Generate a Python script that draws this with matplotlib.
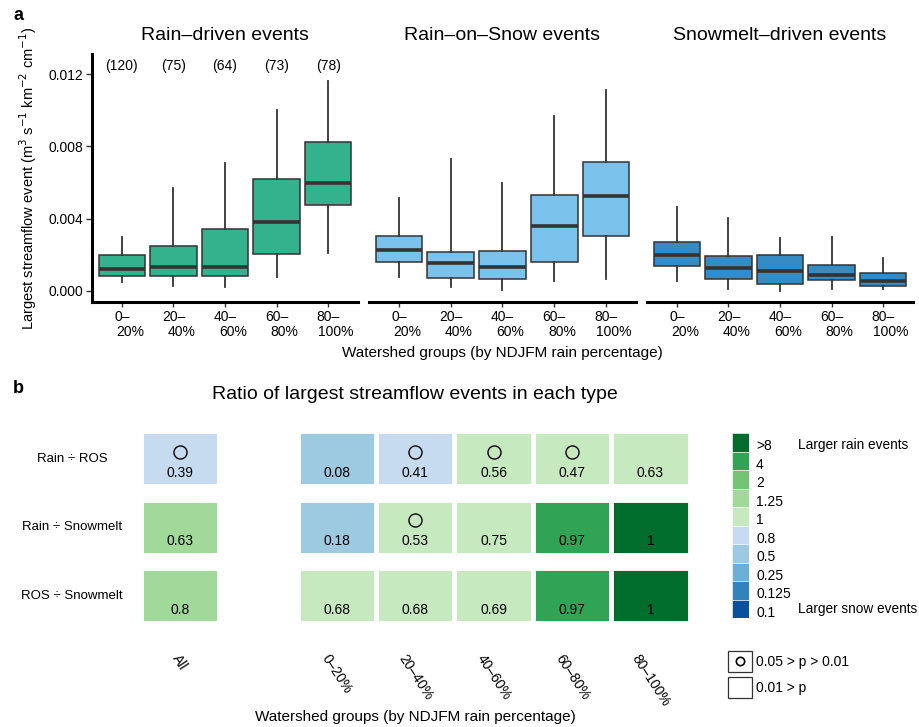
import numpy as np
import matplotlib
matplotlib.use("Agg")
import matplotlib.pyplot as plt
import matplotlib.transforms as mtransforms
from matplotlib.patches import Rectangle
from matplotlib.lines import Line2D

plt.rcParams['font.family'] = ['Liberation Sans', 'DejaVu Sans']

# ---------------- data: panel a (box stats) ----------------
group_top = ['0–', '20–', '40–', '60–', '80–']
group_bot = ['20%', '40%', '60%', '80%', '100%']
counts = [120, 75, 64, 73, 78]

rain_whislo = [0.00051, 0.00029, 0.00024, 0.00079, 0.00212]
rain_q1 = [0.00085, 0.00081, 0.00081, 0.00205, 0.00476]
rain_med = [0.00123, 0.00134, 0.00134, 0.00383, 0.00599]
rain_q3 = [0.00199, 0.00247, 0.00345, 0.00619, 0.00826]
rain_whishi = [0.00299, 0.00568, 0.00708, 0.01001, 0.01161]

ros_whislo = [0.00079, 0.00020, 0.00006, 0.00057, 0.00068]
ros_q1 = [0.00162, 0.00070, 0.00068, 0.00160, 0.00302]
ros_med = [0.00229, 0.00157, 0.00134, 0.00359, 0.00527]
ros_q3 = [0.00306, 0.00217, 0.00223, 0.00529, 0.00712]
ros_whishi = [0.00512, 0.00730, 0.00597, 0.00968, 0.01111]

snow_whislo = [0.00057, 0.00013, 0.00002, 0.00013, 0.00009]
snow_q1 = [0.00140, 0.00068, 0.00040, 0.00061, 0.00029]
snow_med = [0.00201, 0.00129, 0.00112, 0.00087, 0.00057]
snow_q3 = [0.00273, 0.00194, 0.00201, 0.00146, 0.00098]
snow_whishi = [0.00465, 0.00402, 0.00293, 0.00299, 0.00182]

# ---------------- data: panel b ----------------
row_labels = ['Rain ÷ ROS', 'Rain ÷ Snowmelt', 'ROS ÷ Snowmelt']
col_labels = ['All', '0–20%', '20–40%', '40–60%', '60–80%', '80–100%']
col_pos = [0, 2, 3, 4, 5, 6]   # one empty column after "All"

legend_levels = ['>8', '4', '2', '1.25', '1', '0.8', '0.5', '0.25', '0.125', '0.1']
legend_colors = ['#006D2C', '#31A354', '#74C476', '#A1D99B', '#C7E9C0',
                 '#C6DBEF', '#9ECAE1', '#6BAED6', '#3182BD', '#08519C']

ratio_rain_ros = [0.39, 0.08, 0.41, 0.56, 0.47, 0.63]
ratio_rain_snow = [0.63, 0.18, 0.53, 0.75, 0.97, 1]
ratio_ros_snow = [0.8, 0.68, 0.68, 0.69, 0.97, 1]

class_rain_ros = ['0.8', '0.5', '0.8', '1', '1', '1']
class_rain_snow = ['1.25', '0.5', '1', '1', '4', '>8']
class_ros_snow = ['1.25', '1', '1', '1', '4', '>8']

sig_rain_ros = [True, False, True, True, True, False]
sig_rain_snow = [False, False, True, False, False, False]
sig_ros_snow = [False, False, False, False, False, False]

W, H = 920, 727
fig = plt.figure(figsize=(W / 100, H / 100), dpi=100)


def px_axes(l, r, t, b):
    return fig.add_axes([l / W, 1 - b / H, (r - l) / W, (b - t) / H])


dark = '#333333'
panels = [
    ('Rain–driven events', '#34B18D', rain_whislo, rain_q1, rain_med, rain_q3, rain_whishi, (92, 358)),
    ('Rain–on–Snow events', '#7AC2EC', ros_whislo, ros_q1, ros_med, ros_q3, ros_whishi, (369, 636)),
    ('Snowmelt–driven events', '#358CC4', snow_whislo, snow_q1, snow_med, snow_q3, snow_whishi, (647, 913)),
]

for k, (title, color, wlo, q1, med, q3, whi, (l, r)) in enumerate(panels):
    ax = px_axes(l, r, 54, 301.7)
    stats = [dict(whislo=wlo[i], q1=q1[i], med=med[i], q3=q3[i], whishi=whi[i], fliers=[])
             for i in range(5)]
    ax.bxp(stats, positions=range(5), widths=0.9, patch_artist=True,
           showfliers=False, showcaps=False,
           boxprops=dict(facecolor=color, edgecolor=dark, linewidth=1.1),
           medianprops=dict(color=dark, linewidth=2.6, solid_capstyle='butt'),
           whiskerprops=dict(color=dark, linewidth=1.3))
    ax.set_xlim(-0.58, 4.58)
    ax.set_ylim(-0.000592, 0.01311)
    for s in ['top', 'right']:
        ax.spines[s].set_visible(False)
    ax.spines['bottom'].set_linewidth(2.2)
    ax.set_xticks(range(5))
    ax.set_xticklabels([''] * 5)
    ax.tick_params(axis='x', length=3.5, width=1.0, color=dark)
    trans = mtransforms.blended_transform_factory(ax.transData, ax.transAxes)
    for i in range(5):
        ax.annotate(group_top[i], xy=(i, 0), xycoords=trans, xytext=(0, -10.8),
                    textcoords='offset points', ha='center', va='center', fontsize=10)
        ax.annotate(group_bot[i], xy=(i, 0), xycoords=trans, xytext=(5.8, -22),
                    textcoords='offset points', ha='center', va='center', fontsize=10)
    if k == 0:
        ax.spines['left'].set_linewidth(2.2)
        ax.set_yticks([0, 0.004, 0.008, 0.012])
        ax.set_yticklabels(['0.000', '0.004', '0.008', '0.012'], fontsize=10)
        ax.tick_params(axis='y', length=4, width=1.0, color=dark, pad=2)
        for i, c in enumerate(counts):
            ax.text(i, 0.953, f'({c})', transform=trans, ha='center', va='center', fontsize=10)
    else:
        ax.spines['left'].set_visible(False)
        ax.set_yticks([])
    fig.text((l + r) / 2 / W, 1 - 36 / H, title, ha='center', va='center', fontsize=14)

fig.text(28 / W, 1 - 178 / H,
         'Largest streamflow event (m$^3$ s$^{-1}$ km$^{-2}$ cm$^{-1}$)',
         rotation=90, ha='center', va='center', fontsize=10.5)
fig.text(502 / W, 1 - 352.7 / H, 'Watershed groups (by NDJFM rain percentage)',
         ha='center', va='center', fontsize=11)
fig.text(18 / W, 1 - 15.5 / H, 'a', ha='center', va='center', fontsize=13, fontweight='bold')
fig.text(18.5 / W, 1 - 388.5 / H, 'b', ha='center', va='center', fontsize=13, fontweight='bold')

# ---------------- panel b: heat map ----------------
hx = px_axes(140.8, 689.7, 424.5, 630)
color_of = dict(zip(legend_levels, legend_colors))
ratios = [ratio_rain_ros, ratio_rain_snow, ratio_ros_snow]
classes = [class_rain_ros, class_rain_snow, class_ros_snow]
sigs = [sig_rain_ros, sig_rain_snow, sig_ros_snow]
tw, th = 0.95, 0.745
for rrow in range(3):
    for j, cx in enumerate(col_pos):
        hx.add_patch(Rectangle((cx - tw / 2, rrow - th / 2), tw, th,
                               facecolor=color_of[classes[rrow][j]],
                               edgecolor='white', linewidth=0.6))
        hx.text(cx, rrow + 0.203, f'{ratios[rrow][j]:g}', ha='center', va='center', fontsize=10)
        if sigs[rrow][j]:
            hx.plot(cx, rrow - 0.102, 'o', ms=9.4, mfc='none', mec='black', mew=1.0)
hx.set_xlim(-0.5, 6.5)
hx.set_ylim(2.5, -0.5)
for s in hx.spines.values():
    s.set_visible(False)
hx.set_xticks(col_pos)
hx.set_xticklabels(col_labels, rotation=-57, ha='center', va='top', fontsize=10)
hx.tick_params(axis='x', length=0, pad=16)
hx.set_yticks([])
rtrans = mtransforms.blended_transform_factory(fig.transFigure, hx.transData)
for rrow, lab in enumerate(row_labels):
    hx.text(72 / W, rrow, lab, transform=rtrans, ha='center', va='center', fontsize=9.5)

fig.text(415 / W, 1 - 395 / H, 'Ratio of largest streamflow events in each type',
         ha='center', va='center', fontsize=14)
fig.text(415 / W, 1 - 716.7 / H, 'Watershed groups (by NDJFM rain percentage)',
         ha='center', va='center', fontsize=11)

# colour legend
lx = px_axes(732.3, 749.3, 433.3, 618.3)
lx.barh(range(len(legend_levels)), 1, height=1, color=legend_colors,
        edgecolor='white', linewidth=0.4)
lx.set_xlim(0, 1)
lx.set_ylim(len(legend_levels) - 0.5, -0.5)
lx.axis('off')
ltrans = mtransforms.blended_transform_factory(lx.transAxes, lx.transData)
for i, lab in enumerate(legend_levels):
    lx.text(1.4, i + 0.2, lab, transform=ltrans, ha='left', va='center', fontsize=10)
lx.text(3.85, 0.15, 'Larger rain events', transform=ltrans, ha='left', va='center', fontsize=9.8)
lx.text(3.85, 9.0, 'Larger snow events', transform=ltrans, ha='left', va='center', fontsize=9.8)

# significance legend
for (t, b), lab, circ in [((651, 672.3), '0.05 > p > 0.01', True), ((677.3, 698.3), '0.01 > p', False)]:
    fig.add_artist(Rectangle((728.3 / W, 1 - b / H), 23.4 / W, (b - t) / H,
                             transform=fig.transFigure, facecolor='white',
                             edgecolor='#333333', linewidth=0.9))
    if circ:
        fig.add_artist(Line2D([740 / W], [1 - 660.8 / H], transform=fig.transFigure,
                              marker='o', ms=6, mfc='none', mec='black', mew=1.2))
    fig.text(756 / W, 1 - (t + b) / 2 / H, lab, ha='left', va='center', fontsize=10)

fig.savefig('out.png', dpi=100)
